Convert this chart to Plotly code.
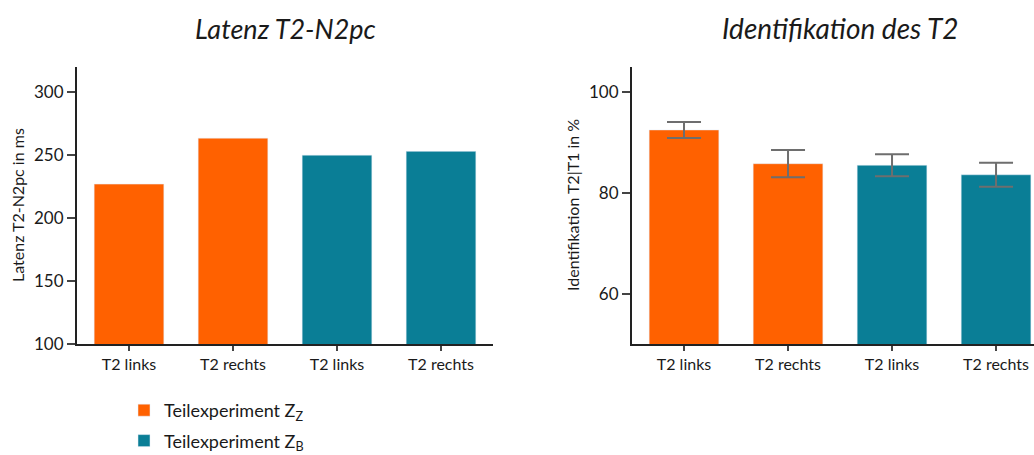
import plotly.graph_objects as go

categories = ["T2 links", "T2 rechts", "T2 links", "T2 rechts"]
latency_zz = [227, 263.5]
latency_zb = [250, 253]
ident_zz = [92.5, 85.8]
ident_zb = [85.5, 83.6]
ident_err_zz = [1.6, 2.7]
ident_err_zb = [2.2, 2.4]

ORANGE = "#FF6100"
TEAL = "#0A7E96"
FONT = "Lato"
TXT = "#1a1a1a"

pos_zz = [0, 1]
pos_zb = [2, 3]

fig = go.Figure()
fig.add_trace(go.Bar(x=pos_zz, y=latency_zz, marker_color=ORANGE, width=0.67,
                     name="Teilexperiment Z<sub>Z</sub>", legendgroup="a",
                     xaxis="x", yaxis="y"))
fig.add_trace(go.Bar(x=pos_zb, y=latency_zb, marker_color=TEAL, width=0.67,
                     name="Teilexperiment Z<sub>B</sub>", legendgroup="b",
                     xaxis="x", yaxis="y"))
errstyle = dict(type="data", color="#6e6e6e", thickness=2, width=17)
fig.add_trace(go.Bar(x=pos_zz, y=ident_zz, marker_color=ORANGE, width=0.67,
                     error_y=dict(array=ident_err_zz, **errstyle),
                     showlegend=False, xaxis="x2", yaxis="y2"))
fig.add_trace(go.Bar(x=pos_zb, y=ident_zb, marker_color=TEAL, width=0.67,
                     error_y=dict(array=ident_err_zb, **errstyle),
                     showlegend=False, xaxis="x2", yaxis="y2"))

W, H = 1034, 455
def px_x(p):
    return p / W
def px_y(p):
    return 1 - p / H

ydom = [px_y(344), px_y(67)]
axis_common = dict(showline=True, linecolor="#222", linewidth=2, showgrid=False,
                   zeroline=False, ticks="outside", tickwidth=2, tickcolor="#444",
                   automargin=False)
ycommon = dict(axis_common, ticklen=8, tickfont=dict(family=FONT, size=17, color=TXT))
xcommon = dict(axis_common, ticklen=5, tickvals=[0, 1, 2, 3], ticktext=categories,
               tickfont=dict(family=FONT, size=16, color=TXT))

def ann(text, x, y, size, angle=0):
    return dict(text=text, x=px_x(x), y=px_y(y), xref="paper", yref="paper",
                xanchor="center", yanchor="middle", showarrow=False, textangle=angle,
                font=dict(family=FONT, size=size, color=TXT))

fig.update_layout(
    width=W, height=H,
    margin=dict(l=0, r=0, t=0, b=0, pad=0, autoexpand=False),
    paper_bgcolor="white", plot_bgcolor="white",
    barmode="overlay",
    xaxis=dict(xcommon, domain=[px_x(77), px_x(493)], range=[-0.5, 3.5], anchor="y"),
    yaxis=dict(ycommon, domain=ydom, range=[100, 320], tickvals=[100, 150, 200, 250, 300],
               anchor="x"),
    xaxis2=dict(xcommon, domain=[px_x(632), 1], range=[-0.5, 3.365], anchor="y2"),
    yaxis2=dict(ycommon, domain=ydom, range=[50, 105], tickvals=[60, 80, 100],
                anchor="x2"),
    showlegend=True,
    legend=dict(x=px_x(124), y=px_y(392), xanchor="left", yanchor="top",
                font=dict(family=FONT, size=18, color=TXT),
                traceorder="grouped", tracegroupgap=4, bgcolor="rgba(0,0,0,0)"),
    annotations=[
        ann("<i>Latenz T2-N2pc</i>", 285, 28, 27),
        ann("<i>Identifikation des T2</i>", 840, 28, 28),
        ann("Latenz T2-N2pc in ms", 18, 205, 16, -90),
        ann("Identifikation T2|T1 in %", 573, 205, 16, -90),
    ],
)

fig.write_html("out.html")
